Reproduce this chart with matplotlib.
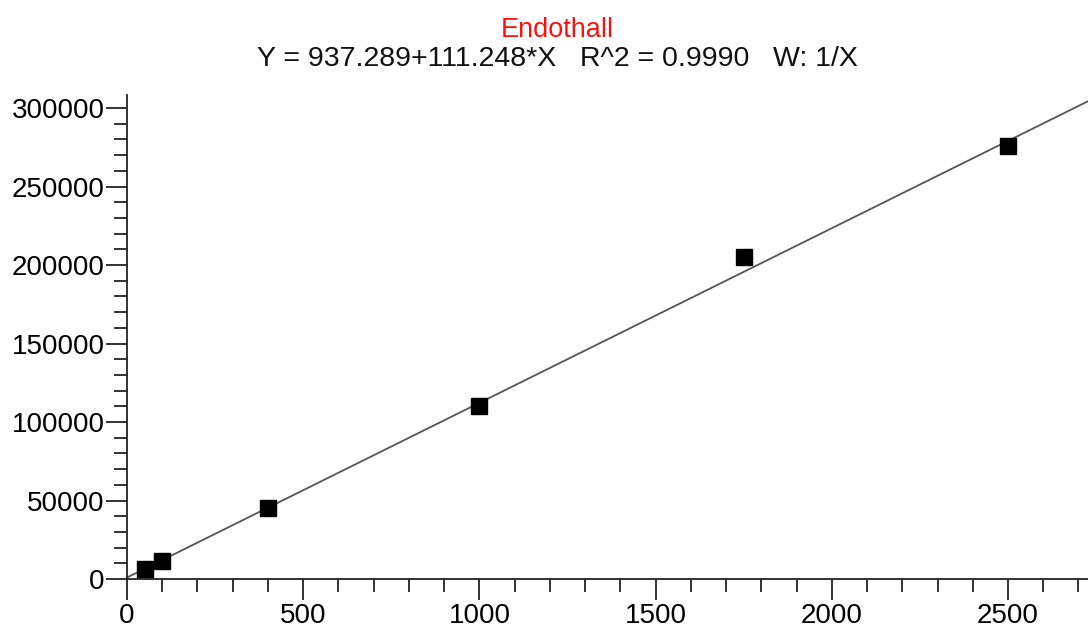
import matplotlib
matplotlib.use('Agg')
import matplotlib.pyplot as plt
import numpy as np
from matplotlib.ticker import MultipleLocator

plt.rcParams['font.family'] = ['Liberation Sans', 'DejaVu Sans']

# calibration standards (amount vs response)
amounts = [50, 100, 400, 1000, 1750, 2500]
responses = [6400, 11500, 45400, 110400, 205300, 275800]

intercept = 937.289
slope = 111.248
title = 'Endothall'
subtitle = 'Y = 937.289+111.248*X   R^2 = 0.9990   W: 1/X'

xmax = 2727
ymax = 308500

fig = plt.figure(figsize=(10.88, 6.27), dpi=100)
top_px = 579 - ymax / 50000 * 78.5
ax = fig.add_axes([127 / 1088, 1 - 579 / 627, 1 - 127 / 1088, (579 - top_px) / 627])

xfit = np.array([0, xmax])
ax.plot(xfit, intercept + slope * xfit, color='#555555', lw=1.3, zorder=2, clip_on=False)
ax.plot(amounts, responses, 's', color='black', ms=11.5, zorder=3)

ax.set_xlim(0, xmax)
ax.set_ylim(0, ymax)
ax.spines['top'].set_visible(False)
ax.spines['right'].set_visible(False)
for s in ('left', 'bottom'):
    ax.spines[s].set_linewidth(1.3)
    ax.spines[s].set_color('#222222')

ax.xaxis.set_major_locator(MultipleLocator(500))
ax.xaxis.set_minor_locator(MultipleLocator(100))
ax.yaxis.set_major_locator(MultipleLocator(50000))
ax.yaxis.set_minor_locator(MultipleLocator(10000))
ax.tick_params(which='major', length=15, width=1.3, color='#222222', labelsize=20, pad=1)
ax.tick_params(which='minor', length=9.5, width=1.3, color='#222222')
ax.tick_params(axis='x', which='major', pad=2)

fig.text(557 / 1088, 1 - 30 / 627, title, color='#ff1010', fontsize=19.5, ha='center', va='center')
fig.text(557 / 1088, 1 - 59 / 627, subtitle, color='#111111', fontsize=20.5, ha='center', va='center')

fig.savefig('out.png', dpi=100)
